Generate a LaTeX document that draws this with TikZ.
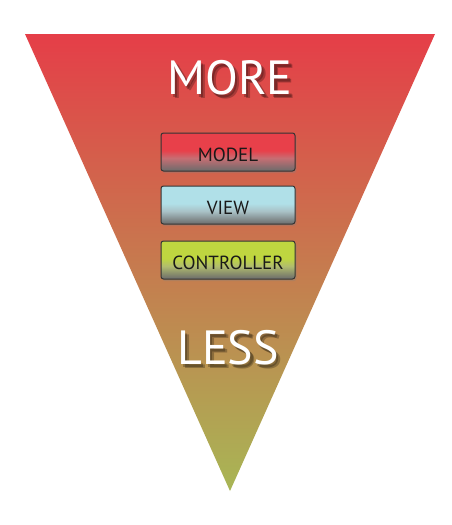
\documentclass[tikz,border=0pt]{standalone}
\usepackage{fontspec}
\setmainfont{PT Sans}
\usetikzlibrary{shadows}
\definecolor{tritop}{RGB}{229,62,72}
\definecolor{tribot}{RGB}{168,182,85}
\definecolor{modelc}{RGB}{232,64,74}
\definecolor{viewc}{RGB}{176,224,232}
\definecolor{ctrlc}{RGB}{191,214,64}
\definecolor{boxtext}{RGB}{25,25,25}
\colorlet{boxcol}{white}
\pgfdeclareverticalshading[boxcol]{boxshade}{100bp}{color(0bp)=(black!58); color(25bp)=(black!58); color(42bp)=(boxcol!75!black!70); color(52bp)=(boxcol); color(100bp)=(boxcol)}
\tikzset{
  mvcbox/.style={draw=black!80, line width=1pt, rounded corners=2.5pt,
    minimum width=134pt, minimum height=38pt, inner sep=0pt,
    text height=19pt, text depth=0pt,
    fill=#1, text=boxtext, font=\fontsize{19}{19}\selectfont,
    drop shadow={opacity=0.3, shadow xshift=1.5pt, shadow yshift=-2pt},
    path picture={\colorlet{boxcol}{#1}\shade[shading=boxshade]
      (path picture bounding box.south west) rectangle
      (path picture bounding box.north east);}},
  bigword/.style={text=white, font=\fontsize{48}{48}\selectfont},
  bigshadow/.style={text=black, opacity=0.25, font=\fontsize{48}{48}\selectfont}
}
\begin{document}
\begin{tikzpicture}[x=1pt,y=-1pt]
\useasboundingbox (0,0) rectangle (452,525);
\shade[top color=tritop, bottom color=tribot] (25,34) -- (435,34) -- (230,491) -- cycle;
% soft text shadows
\foreach \d in {2.5,4}{
  \node[bigshadow] at (230+\d,78+\d) {MORE};
  \node[bigshadow] at (228+\d,348+\d) {LESS};
}
\node[bigword] (more) at (230,78) {MORE};
\node[bigword] (less) at (228,348) {LESS};
\node[mvcbox=modelc] (model) at (228,152) {MODEL};
\node[mvcbox=viewc] (view) at (228,205) {VIEW};
\node[mvcbox=ctrlc] (ctrl) at (228,260) {CONTROLLER};
\end{tikzpicture}
\end{document}
